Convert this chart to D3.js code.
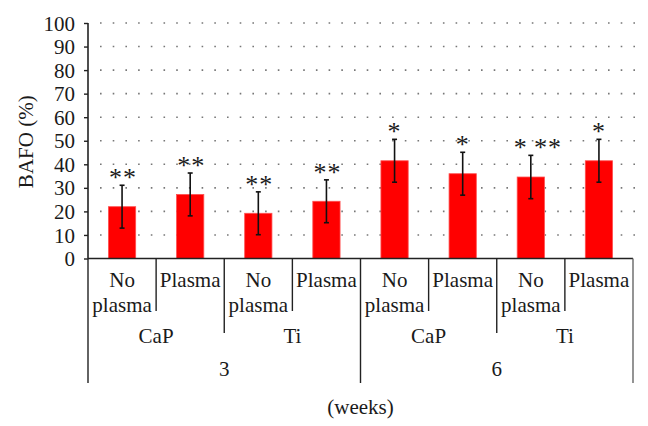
<!DOCTYPE html>
<html>
<head>
<meta charset="utf-8">
<script src="https://cdn.jsdelivr.net/npm/d3@7"></script>
<style>
  html, body { margin: 0; padding: 0; background: #fff; }
  svg { display: block; }
  svg text { font-family: 'Liberation Serif', 'DejaVu Serif', serif !important; fill: #1a1a1a; }
</style>
</head>
<body>
<svg id="chart" width="648" height="426"></svg>
<script>
// ---- data ----
const treatments = ["No plasma", "Plasma", "No plasma", "Plasma", "No plasma", "Plasma", "No plasma", "Plasma"];
const materials = ["CaP", "Ti", "CaP", "Ti"];
const weeks = ["3", "6"];
const means = [22, 27.2, 19.2, 24.3, 41.5, 36, 34.6, 41.5];
const sds = [9.1, 9.1, 9.1, 9.1, 9.1, 9.1, 9.2, 9.1];
const marks = ["**", "**", "**", "**", "*", "*", "*\u2009**", "*"];
const yTicks = [0, 10, 20, 30, 40, 50, 60, 70, 80, 90, 100];
const yLabel = "BAFO (%)";
const xLabel = "(weeks)";

// ---- layout ----
const svg = d3.select("#chart");
const mLeft = 88, mRight = 633, mTop = 23, mBottom = 258.5;
const fs = 21;
const serif = "'Liberation Serif', 'DejaVu Serif', serif";

const x = d3.scaleBand().domain(d3.range(treatments.length)).range([mLeft, mRight]).padding(0);
const y = d3.scaleLinear().domain([0, 100]).range([mBottom, mTop]);
const barW = x.bandwidth() * 0.4;

// dotted gridlines
svg.append("g").selectAll("line").data(yTicks.filter(d => d > 0)).join("line")
  .attr("x1", mLeft + 12).attr("x2", mRight + 4)
  .attr("y1", d => y(d)).attr("y2", d => y(d))
  .attr("stroke", "#777").attr("stroke-width", 1.6)
  .attr("stroke-dasharray", "1.6,11.1");

// bars
svg.append("g").selectAll("rect").data(means).join("rect")
  .attr("x", (d, i) => x(i) + x.bandwidth() / 2 - barW / 2)
  .attr("width", barW)
  .attr("y", d => y(d))
  .attr("height", d => y(0) - y(d))
  .attr("fill", "#ff0000")
  .attr("stroke", "#ff5050").attr("stroke-width", 0.8);

// error bars
const eg = svg.append("g").attr("stroke", "#111").attr("stroke-width", 1.6);
means.forEach((m, i) => {
  const cx = x(i) + x.bandwidth() / 2;
  eg.append("line").attr("x1", cx).attr("x2", cx).attr("y1", y(m + sds[i])).attr("y2", y(m - sds[i]));
  eg.append("line").attr("x1", cx - 2.5).attr("x2", cx + 2.5).attr("y1", y(m + sds[i])).attr("y2", y(m + sds[i]));
  eg.append("line").attr("x1", cx - 2.5).attr("x2", cx + 2.5).attr("y1", y(m - sds[i])).attr("y2", y(m - sds[i]));
});

// significance marks
svg.append("g").selectAll("text").data(marks).join("text")
  .attr("x", (d, i) => x(i) + x.bandwidth() / 2 + (d.length > 2 ? 6 : 0) + (d.length > 1 ? 1 : 0))
  .attr("y", (d, i) => y(means[i] + sds[i]) + 1)
  .attr("text-anchor", "middle")
  .style("font-family", serif)
  .style("font-size", "26px")
  .style("letter-spacing", "1px")
  .text(d => d);

// y axis
const yAxis = svg.append("g").attr("transform", `translate(${mLeft},0)`)
  .call(d3.axisLeft(y).tickValues(yTicks).tickSize(4).tickPadding(9).tickFormat(d3.format("d")));
yAxis.attr("font-family", null).attr("font-size", null);
yAxis.select(".domain").attr("stroke", "#222").attr("stroke-width", 1.6).attr("d", `M0,${mTop}V${mBottom}`);
yAxis.selectAll(".tick line").attr("stroke", "#222").attr("stroke-width", 1.4);
yAxis.selectAll(".tick text").style("font-size", fs + "px").style("font-family", serif).attr("fill", "#1a1a1a").attr("dy", "0.34em");

svg.append("text")
  .attr("transform", `translate(33,${(mTop + mBottom) / 2 + 1}) rotate(-90)`)
  .attr("text-anchor", "middle")
  .style("font-family", serif)
  .style("font-size", fs + "px")
  .text(yLabel);

// x axis baseline
svg.append("line").attr("x1", mLeft).attr("x2", mRight).attr("y1", mBottom).attr("y2", mBottom)
  .attr("stroke", "#222").attr("stroke-width", 1.6);

// hierarchical category table
const lg = svg.append("g").attr("stroke", "#222").attr("stroke-width", 1.4);
d3.range(1, treatments.length).forEach(i => {
  let yEnd = 311;
  if (i % 2 === 0) yEnd = 333;
  if (i % 4 === 0) yEnd = 383;
  lg.append("line").attr("x1", x(i)).attr("x2", x(i)).attr("y1", mBottom).attr("y2", yEnd);
});
lg.append("line").attr("x1", mLeft).attr("x2", mLeft).attr("y1", mBottom).attr("y2", 383);
lg.append("line").attr("x1", mRight).attr("x2", mRight).attr("y1", mBottom).attr("y2", 383).attr("stroke", "#666");

function label(xp, yp, t) {
  svg.append("text").attr("x", xp).attr("y", yp)
    .attr("text-anchor", "middle")
    .style("font-family", serif).style("font-size", fs + "px")
    .text(t);
}
// treatment labels
treatments.forEach((t, i) => {
  const cx = x(i) + x.bandwidth() / 2;
  t.split(" ").forEach((w, j) => label(cx, 287 + j * 25, w));
});
// material labels
materials.forEach((m, i) => label(x(i * 2) + x.bandwidth(), 343, m));
// week labels
weeks.forEach((w, i) => label(x(i * 4) + x.bandwidth() * 2, 376, w));
label((mLeft + mRight) / 2, 414, xLabel);
</script>
</body>
</html>
